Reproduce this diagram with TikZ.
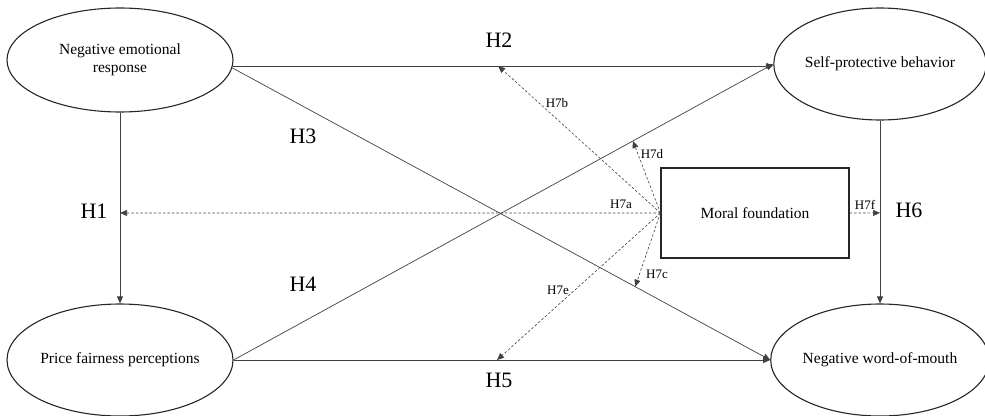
\documentclass[tikz,border=0pt]{standalone}
\usepackage{fontspec}
\setmainfont{Liberation Serif}
\usetikzlibrary{shapes.geometric,arrows.meta}
\begin{document}
\begin{tikzpicture}[x=1pt,y=-1pt,
  construct/.style={ellipse,draw=black!85,line width=1.1pt,inner sep=0pt,align=center,font=\fontsize{15.5}{18}\selectfont},
  mfbox/.style={rectangle,draw=black!85,line width=1.1pt,minimum width=188pt,minimum height=90pt,font=\fontsize{15.5}{18}\selectfont},
  solidarrow/.style={draw=black!75,line width=0.7pt,-{Triangle[length=7pt,width=6pt]}},
  modarrow/.style={draw=black!75,line width=0.6pt,dash pattern=on 2.5pt off 2pt,-{Triangle[length=7pt,width=6pt]}},
  hyp/.style={font=\fontsize{22}{24}\selectfont,inner sep=0pt},
  sublab/.style={font=\fontsize{13}{14}\selectfont,inner sep=0pt}]
\useasboundingbox (0,0) rectangle (985,415);
\node[construct,minimum width=226pt,minimum height=104pt] (ner) at (120,60) {Negative emotional\\response};
\node[construct,minimum width=226pt,minimum height=112pt] (pfp) at (120,360) {Price fairness perceptions};
\node[construct,minimum width=210pt,minimum height=112pt] (spb) at (880,64) {Self-protective behavior};
\node[construct,minimum width=210pt,minimum height=112pt] (nwom) at (880,360) {Negative word-of-mouth};
\node[mfbox] (mf) at (755,213) {Moral foundation};
% main paths
\draw[solidarrow] (ner.south) -- coordinate[pos=0.526] (t1) (pfp.north);
\draw[solidarrow] (ner.-3) -- coordinate[pos=0.491] (t2) (ner.-3 -| spb.west);
\draw[solidarrow] (ner.-4) -- coordinate[pos=0.749] (t3) (nwom.west);
\draw[solidarrow] (pfp.east) -- coordinate[pos=0.74] (t4) (spb.west);
\draw[solidarrow] (pfp.east) -- coordinate[pos=0.491] (t5) (nwom.west);
\draw[solidarrow] (spb.south) -- coordinate[pos=0.505] (t6) (nwom.north);
% moderation paths
\draw[modarrow] (mf.west) -- (t1);
\draw[modarrow] (mf.west) -- (t2);
\draw[modarrow] (mf.west) -- (t3);
\draw[modarrow] (mf.west) -- (t4);
\draw[modarrow] (mf.west) -- (t5);
\draw[modarrow] (mf.east) -- (t6);
% hypothesis labels
\node[hyp] (h1) at (94,211) {H1};
\node[hyp] (h2) at (499,40) {H2};
\node[hyp] (h3) at (303,136) {H3};
\node[hyp] (h4) at (303,284) {H4};
\node[hyp] (h5) at (499,380) {H5};
\node[hyp] (h6) at (909,210) {H6};
\node[sublab] (h7a) at (621,204) {H7a};
\node[sublab] (h7b) at (557,103) {H7b};
\node[sublab] (h7c) at (657,274) {H7c};
\node[sublab] (h7d) at (652,154) {H7d};
\node[sublab] (h7e) at (558,290) {H7e};
\node[sublab] (h7f) at (865,205) {H7f};
\end{tikzpicture}
\end{document}
